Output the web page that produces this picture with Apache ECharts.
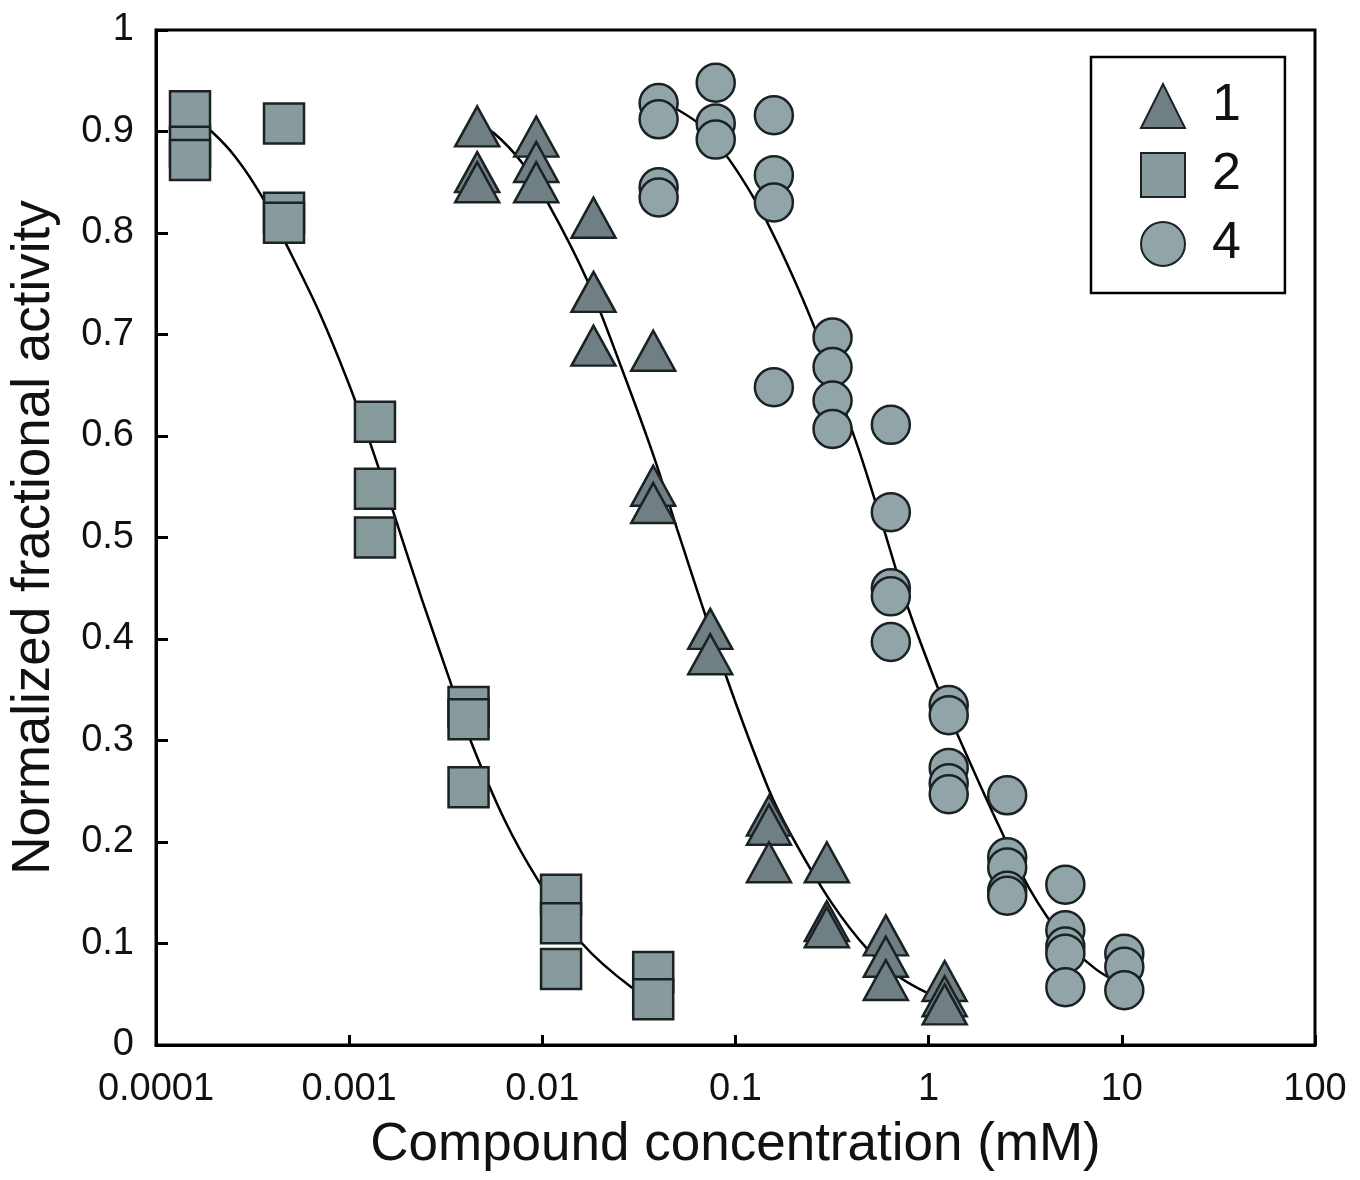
<!DOCTYPE html>
<html>
<head>
<meta charset="utf-8">
<script src="https://cdn.jsdelivr.net/npm/echarts@6/dist/echarts.min.js"></script>
<style>
html,body{margin:0;padding:0;background:#fff;}
#chart{width:1360px;height:1180px;}
</style>
</head>
<body>
<div id="chart"></div>
<script>
// ---- data ----
const xTickLabels = ['0.0001','0.001','0.01','0.1','1','10','100'];
const yTickLabels = ['0','0.1','0.2','0.3','0.4','0.5','0.6','0.7','0.8','0.9','1'];

// compound 1 (triangles)
const c1X = [0.0046,0.0046,0.0046, 0.0093,0.0093,0.0093, 0.0184,0.0184,0.0184, 0.0375,0.0375,0.0375,
             0.074,0.074, 0.149,0.149,0.149, 0.297,0.297,0.297, 0.60,0.60,0.60, 1.21,1.21,1.21];
const c1Y = [0.905,0.86,0.85, 0.895,0.87,0.85, 0.815,0.742,0.689, 0.684,0.551,0.534,
             0.41,0.385, 0.226,0.217,0.18, 0.18,0.122,0.116, 0.108,0.087,0.064, 0.063,0.048,0.04];
// compound 2 (squares)
const c2X = [0.00015,0.00015,0.00015, 0.00046,0.00046,0.00046, 0.00136,0.00136,0.00136,
             0.00415,0.00415,0.00415, 0.0125,0.0125,0.0125, 0.0375,0.0375];
const c2Y = [0.92,0.885,0.872, 0.908,0.82,0.81, 0.614,0.548,0.50,
             0.333,0.321,0.254, 0.148,0.12,0.075, 0.072,0.045];
// compound 4 (circles)
const c4X = [0.04,0.04,0.04,0.04, 0.079,0.079,0.079, 0.158,0.158,0.158,0.158,
             0.318,0.318,0.318,0.318, 0.637,0.637,0.637,0.637,0.637,
             1.27,1.27,1.27,1.27,1.27, 2.55,2.55,2.55,2.55,2.55,
             5.1,5.1,5.1,5.1,5.1, 10.3,10.3,10.3];
const c4Y = [0.928,0.912,0.845,0.835, 0.948,0.908,0.892, 0.916,0.857,0.83,0.648,
             0.697,0.668,0.635,0.607, 0.611,0.525,0.45,0.442,0.397,
             0.335,0.325,0.273,0.258,0.247, 0.246,0.185,0.175,0.152,0.147,
             0.158,0.113,0.097,0.09,0.057, 0.09,0.077,0.054];

// fitted curves, points
const fit1X = [0.00461,0.00565,0.00779,0.01073,0.0173,0.0256,0.0379,0.0505,0.0873,0.147,0.194,0.312,0.484,0.692,0.989,1.21];
const fit1Y = [0.908,0.898,0.870,0.829,0.751,0.668,0.579,0.505,0.369,0.254,0.207,0.141,0.094,0.068,0.051,0.045];
const fit2X = [0.000157,0.000194,0.00026,0.000353,0.000475,0.00070,0.000993,0.00128,0.0017,0.00237,0.00331,0.00415,0.00637,0.00953,0.0159,0.0289,0.0375];
const fit2Y = [0.912,0.900,0.874,0.836,0.788,0.722,0.652,0.594,0.524,0.440,0.360,0.305,0.222,0.162,0.101,0.057,0.048];
const fit4X = [0.04,0.0664,0.0915,0.1247,0.166,0.255,0.430,0.578,0.778,1.11,1.41,2.36,3.37,4.98,7.3,10.3];
const fit4Y = [0.932,0.906,0.874,0.834,0.789,0.708,0.589,0.512,0.432,0.353,0.306,0.212,0.152,0.105,0.075,0.058];

const seriesNames = ['1','2','4'];
// ---------------------------------------

const FONT = '"Liberation Sans", Arial, Helvetica, sans-serif';
const pairs = (xs, ys) => xs.map((x, i) => [x, ys[i]]);
const stroke = '#1b2224';

const chart = echarts.init(document.getElementById('chart'), null, {renderer: 'canvas'});
const curve = (name, xs, ys) => ({
  type: 'line', name, data: pairs(xs, ys), smooth: 0.3,
  showSymbol: false, symbol: 'none', lineStyle: {color: '#000', width: 2.5}, z: 1, silent: true
});
const option = {
  backgroundColor: '#ffffff',
  animation: false,
  grid: {left: 155, right: 45, top: 30, bottom: 135, show: true, borderColor: '#000', borderWidth: 3, containLabel: false},
  legend: {
    data: seriesNames,
    orient: 'vertical',
    left: 1091, top: 57,
    padding: [23, 44, 23, 49],
    itemWidth: 44, itemHeight: 44, itemGap: 17,
    borderColor: '#000', borderWidth: 2.5,
    textStyle: {fontSize: 52, color: '#111', fontFamily: FONT, padding: [0, 0, 0, 22], lineHeight: 52}
  },
  xAxis: {
    type: 'log', logBase: 10, min: 0.0001, max: 100,
    name: 'Compound concentration (mM)', nameLocation: 'middle', nameGap: 74,
    nameTextStyle: {fontSize: 53, color: '#111', fontFamily: FONT},
    axisLine: {lineStyle: {color: '#000', width: 3}},
    axisTick: {inside: true, length: 10, lineStyle: {color: '#000', width: 3}},
    axisLabel: {fontSize: 38, color: '#111', fontFamily: FONT, margin: 26,
      formatter: v => xTickLabels[Math.round(Math.log10(v)) + 4]},
    splitLine: {show: false}, minorTick: {show: false}
  },
  yAxis: {
    type: 'value', min: 0, max: 1, interval: 0.1,
    name: 'Normalized fractional activity', nameLocation: 'middle', nameGap: 95,
    nameTextStyle: {fontSize: 53, color: '#111', fontFamily: FONT},
    axisLine: {lineStyle: {color: '#000', width: 3}},
    axisTick: {inside: true, length: 12, lineStyle: {color: '#000', width: 3}},
    axisLabel: {fontSize: 38, color: '#111', fontFamily: FONT, margin: 22,
      formatter: v => yTickLabels[Math.round(v * 10)]},
    splitLine: {show: false}
  },
  series: [
    curve('fit1', fit1X, fit1Y),
    curve('fit2', fit2X, fit2Y),
    curve('fit4', fit4X, fit4Y),
    {type: 'scatter', name: seriesNames[0], data: pairs(c1X, c1Y), symbol: 'triangle', symbolSize: [44, 40],
     itemStyle: {color: '#6f7f83', borderColor: stroke, borderWidth: 2.5, opacity: 1}, z: 3},
    {type: 'scatter', name: seriesNames[1], data: pairs(c2X, c2Y), symbol: 'rect', symbolSize: 40,
     itemStyle: {color: '#879a9c', borderColor: stroke, borderWidth: 2.5, opacity: 1}, z: 3},
    {type: 'scatter', name: seriesNames[2], data: pairs(c4X, c4Y), symbol: 'circle', symbolSize: 38,
     itemStyle: {color: '#91a5a8', borderColor: stroke, borderWidth: 2.5, opacity: 1}, z: 3}
  ]
};
chart.setOption(option);
</script>
</body>
</html>
